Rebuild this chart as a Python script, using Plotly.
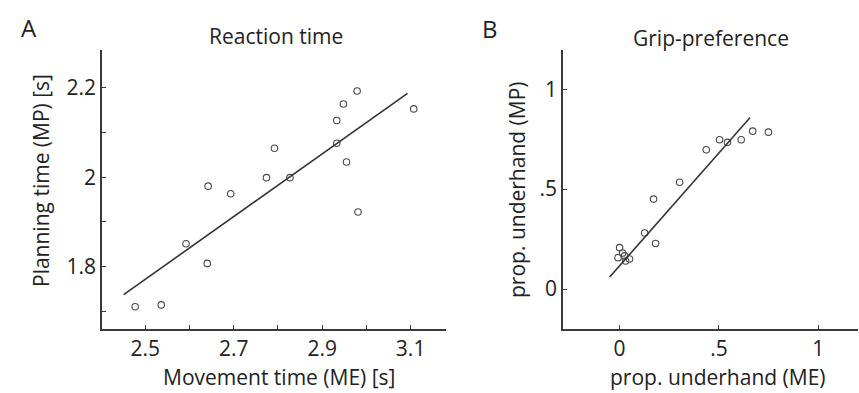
import plotly.graph_objects as go

W, H = 859, 393

# Panel A: Reaction time
rt_me = [2.477, 2.536, 2.592, 2.640, 2.642, 2.693, 2.774, 2.792, 2.827,
         2.933, 2.948, 2.979, 2.933, 2.955, 2.981, 3.107]
rt_mp = [1.710, 1.714, 1.851, 1.807, 1.980, 1.963, 1.999, 2.065, 1.999,
         2.127, 2.164, 2.193, 2.076, 2.034, 1.922, 2.153]
rt_fit_x = [2.451, 3.093]
rt_fit_y = [1.737, 2.188]

# Panel B: Grip-preference
gp_me = [0.436, 0.503, 0.543, 0.612, 0.670, 0.749, 0.302, 0.171, 0.126, 0.181,
         0.000, 0.015, -0.008, 0.025, 0.050, 0.030]
gp_mp = [0.697, 0.747, 0.734, 0.747, 0.790, 0.785, 0.534, 0.450, 0.280, 0.228,
         0.207, 0.180, 0.157, 0.166, 0.150, 0.140]
gp_fit_x = [-0.05, 0.657]
gp_fit_y = [0.06, 0.858]

a_ticks = [2.5, 2.7, 2.9, 3.1]
a_minor = [2.6, 2.8, 3.0]
a_yticks = [1.8, 2.0, 2.2]
a_yticklabels = ["1.8", "2", "2.2"]
a_yminor = [1.7, 1.9, 2.1]
b_ticks = [0, 0.5, 1]
b_ticklabels = ["0", ".5", "1"]

FONT = "'Open Sans', Lato, sans-serif"
TXT = "#222222"
AX = "#3a3a3a"

fig = go.Figure()

marker = dict(symbol="circle-open", size=6.5, color="#4a4a4a", line=dict(width=1.1, color="#4a4a4a"))
fig.add_trace(go.Scatter(x=rt_me, y=rt_mp, mode="markers", marker=marker, xaxis="x", yaxis="y", showlegend=False))
fig.add_trace(go.Scatter(x=rt_fit_x, y=rt_fit_y, mode="lines", line=dict(color="#333", width=1.6), xaxis="x", yaxis="y", showlegend=False))
fig.add_trace(go.Scatter(x=gp_me, y=gp_mp, mode="markers", marker=marker, xaxis="x2", yaxis="y2", showlegend=False))
fig.add_trace(go.Scatter(x=gp_fit_x, y=gp_fit_y, mode="lines", line=dict(color="#333", width=1.6), xaxis="x2", yaxis="y2", showlegend=False))

def px(x):
    return x / W

def py(y):
    return 1 - y / H

ydom = [py(329), py(50)]
common = dict(showline=True, linecolor=AX, linewidth=1.6, showgrid=False, zeroline=False,
              ticks="inside", ticklen=4, tickwidth=1.2, tickcolor=AX,
              tickfont=dict(family=FONT, size=21, color=TXT), mirror=False)

fig.update_layout(
    width=W, height=H,
    margin=dict(l=0, r=0, t=0, b=0),
    paper_bgcolor="white", plot_bgcolor="white",
    xaxis=dict(domain=[px(102), px(446)], range=[2.402, 3.18], anchor="y",
               tickvals=a_ticks, ticktext=[str(v) for v in a_ticks],
               minor=dict(tickvals=a_minor, ticks="inside", ticklen=4, tickcolor=AX, tickwidth=1.2),
               **common),
    yaxis=dict(domain=ydom, range=[1.66, 2.285], anchor="x",
               tickvals=a_yticks, ticktext=a_yticklabels,
               minor=dict(tickvals=a_yminor, ticks="inside", ticklen=4, tickcolor=AX, tickwidth=1.2),
               **common),
    xaxis2=dict(domain=[px(563), px(858)], range=[-0.285, 1.2], anchor="y2",
                tickvals=b_ticks, ticktext=b_ticklabels, **common),
    yaxis2=dict(domain=ydom, range=[-0.2, 1.196], anchor="x2",
                tickvals=b_ticks, ticktext=b_ticklabels, **common),
)

def ann(text, x, y, size=21, angle=0):
    fig.add_annotation(text=text, x=px(x), y=py(y), xref="paper", yref="paper",
                       showarrow=False, xanchor="center", yanchor="middle",
                       textangle=angle, font=dict(family=FONT, size=size, color=TXT))

ann("A", 29, 27, size=24)
ann("B", 490, 29, size=24)
ann("Reaction time", 276, 36)
ann("Grip-preference", 711, 38)
ann("Movement time (ME) [s]", 279, 377)
ann("prop. underhand (ME)", 718, 377)
ann("Planning time (MP) [s]", 41, 181, angle=-90)
ann("prop. underhand (MP)", 517, 190, angle=-90)

fig.write_html("out.html", config={"displayModeBar": False},
               post_script="document.body.style.margin='0px';")
